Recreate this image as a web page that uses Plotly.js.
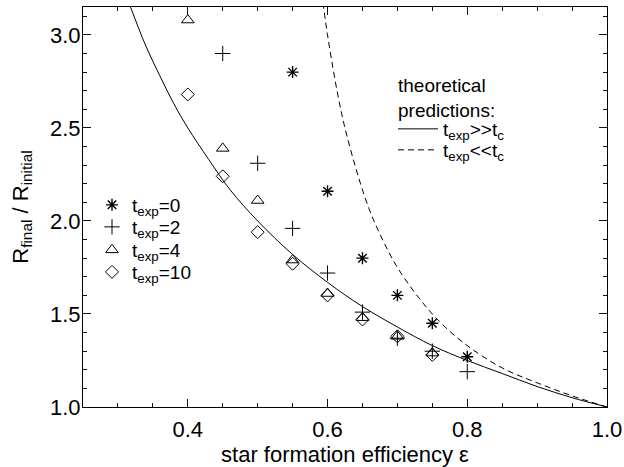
<!DOCTYPE html>
<html><head><meta charset="utf-8">
<script src="https://cdn.plot.ly/plotly-3.0.1.min.js"></script>
<style>html,body{margin:0;padding:0;background:#fff}#plot{width:624px;height:467px}</style>
</head><body><div id="plot"></div>
<script>
// Simulation results (R_final / R_initial vs star formation efficiency)
const eps0  = [0.55, 0.60, 0.65, 0.70, 0.75, 0.80];
const r0    = [2.80, 2.16, 1.80, 1.60, 1.45, 1.27];
const eps2  = [0.45, 0.50, 0.55, 0.60, 0.65, 0.70, 0.75, 0.80];
const r2    = [2.90, 2.31, 1.96, 1.72, 1.51, 1.37, 1.30, 1.19];
const eps4  = [0.40, 0.45, 0.50, 0.55, 0.60, 0.65, 0.70, 0.75];
const r4    = [3.08, 2.39, 2.11, 1.79, 1.61, 1.48, 1.38, 1.29];
const eps10 = [0.40, 0.45, 0.50, 0.55, 0.60, 0.65, 0.70, 0.75];
const r10   = [2.68, 2.24, 1.94, 1.77, 1.60, 1.47, 1.38, 1.28];
// Theoretical curves
const solidX = [0.31, 0.32, 0.34, 0.36, 0.38, 0.40, 0.43, 0.46, 0.50, 0.55, 0.60, 0.65, 0.70, 0.75, 0.80, 0.85, 0.90, 0.95, 1.00];
const solidY = [3.23, 3.13, 2.94, 2.78, 2.63, 2.50, 2.33, 2.17, 2.00, 1.82, 1.67, 1.54, 1.43, 1.33, 1.25, 1.18, 1.11, 1.05, 1.00];
const dashX  = [0.59, 0.60, 0.62, 0.64, 0.66, 0.68, 0.70, 0.73, 0.76, 0.80, 0.85, 0.90, 0.95, 1.00];
const dashY  = [3.28, 3.00, 2.58, 2.29, 2.06, 1.89, 1.75, 1.59, 1.46, 1.33, 1.21, 1.13, 1.06, 1.00];
const seriesNames = ['t<sub>exp</sub>=0', 't<sub>exp</sub>=2', 't<sub>exp</sub>=4', 't<sub>exp</sub>=10'];
const theoryNames = ['t<sub>exp</sub>>>t<sub>c</sub>', 't<sub>exp</sub><<t<sub>c</sub>'];
const theoryTitle = 'theoretical<br>predictions:';
const xTickStart = 0.4, xTickStep = 0.2, xMinorStep = 0.05;
const yTickStart = 1.0, yTickStep = 0.5, yMinorStep = 0.1;

const F = 'Liberation Sans, Arial, Helvetica, sans-serif';
const blk = '#000';
const tickC = '#111111';
const traces = [
  {x: solidX, y: solidY, mode: 'lines', line: {color: blk, width: 1, shape: 'spline'}, name: theoryNames[0], legend: 'legend5'},
  {x: dashX, y: dashY, mode: 'lines', line: {color: blk, width: 1, dash: '6px,4px', shape: 'spline'}, name: theoryNames[1], legend: 'legend6'},
  {x: eps0, y: r0, mode: 'markers', marker: {symbol: 'asterisk-open', size: 10, color: blk, line: {color: blk, width: 1.4}}, name: seriesNames[0], legend: 'legend'},
  {x: eps2, y: r2, mode: 'markers', marker: {symbol: 'cross-thin-open', size: 11, color: blk, line: {color: blk, width: 1}}, name: seriesNames[1], legend: 'legend2'},
  {x: eps4, y: r4, mode: 'markers', marker: {symbol: 'triangle-up-open', size: 11, color: blk, line: {color: blk, width: 1}}, name: seriesNames[2], legend: 'legend3'},
  {x: eps10, y: r10, mode: 'markers', marker: {symbol: 'diamond-open', size: 10, color: blk, line: {color: blk, width: 1}}, name: seriesNames[3], legend: 'legend4'}
];
// place a one-item legend at pixel position (px, py) of its left edge / centre line
const plotL = 83, plotT = 7, plotW = 524, plotH = 400;
function leg(px, py, iw) {
  return {x: (px - plotL) / plotW, y: (plotT + plotH - py) / plotH, xanchor: 'left', yanchor: 'middle',
    bgcolor: 'rgba(0,0,0,0)', font: {family: F, size: 19, color: blk}, itemwidth: iw || 30, borderwidth: 0};
}
const layout = {
  width: 624, height: 467,
  margin: {l: plotL, r: 624 - plotL - plotW, t: plotT, b: 467 - plotT - plotH},
  paper_bgcolor: '#fff', plot_bgcolor: '#fff',
  font: {family: F, size: 22, color: blk},
  xaxis: {
    range: [0.25, 1.0], showgrid: false, zeroline: false, showline: true, linecolor: blk,
    mirror: 'ticks', ticks: 'inside', ticklen: 8, tickwidth: 1, tickcolor: tickC,
    tickmode: 'linear', tick0: xTickStart, dtick: xTickStep, tickformat: '.1f', ticklabelstandoff: 3,
    minor: {tickmode: 'linear', dtick: xMinorStep, tick0: 0, ticks: 'inside', ticklen: 4, tickwidth: 1, tickcolor: tickC},
    title: {text: 'star formation efficiency ε', font: {family: F, size: 22}, standoff: 2}
  },
  yaxis: {
    range: [1.0, 3.15], showgrid: false, zeroline: false, showline: true, linecolor: blk,
    mirror: 'ticks', ticks: 'inside', ticklen: 8, tickwidth: 1, tickcolor: tickC,
    tickmode: 'linear', tick0: yTickStart, dtick: yTickStep, tickformat: '.1f', ticklabelstandoff: -3,
    minor: {tickmode: 'linear', dtick: yMinorStep, tick0: 0, ticks: 'inside', ticklen: 4, tickwidth: 1, tickcolor: tickC},
    title: {text: 'R<sub>final</sub> / R<sub>initial</sub>', font: {family: F, size: 22}, standoff: 15}
  },
  showlegend: true,
  legend: leg(92, 205), legend2: leg(92, 227), legend3: leg(92, 250), legend4: leg(92, 272),
  legend5: leg(393, 129, 40), legend6: leg(393, 150, 40),
  annotations: [{
    xref: 'paper', yref: 'paper', x: (396 - plotL) / plotW, y: (plotT + plotH - 98) / plotH,
    xanchor: 'left', yanchor: 'middle', align: 'left', showarrow: false,
    text: theoryTitle, font: {family: F, size: 19, color: blk}
  }]
};
Plotly.newPlot('plot', traces, layout, {displayModeBar: false});
</script></body></html>
